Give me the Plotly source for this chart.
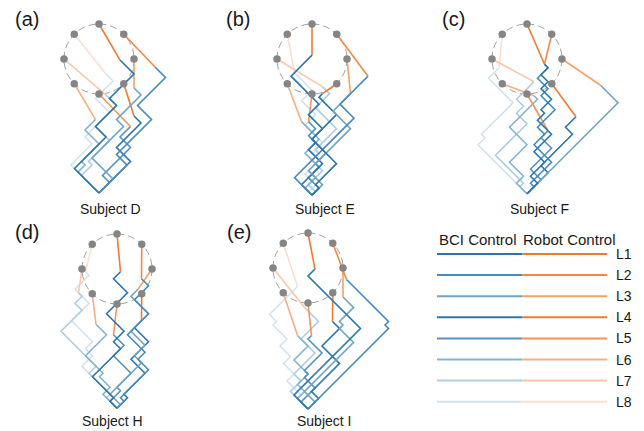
import math
import plotly.graph_objects as go

W, H = 644, 431
PX = 3.5      # screen pixels per data unit
R = 10.0      # radius of the target circle (data units)

subjects = ["Subject D", "Subject E", "Subject F", "Subject H", "Subject I"]
panel_tags = ["(a)", "(b)", "(c)", "(d)", "(e)"]
levels = ["L1", "L2", "L3", "L4", "L5", "L6", "L7", "L8"]
# target direction for each level, degrees (L1 at top, clockwise)
target_angles = [90, 45, 0, -45, -90, -135, 180, 135]

bci_colors = ["#2b76ae", "#468bbd", "#6fa4c9", "#2b76ae",
              "#5593c0", "#84b3d3", "#afcde2", "#d3e3ee"]
robot_colors = ["#f07a30", "#f38943", "#f6a169", "#f07a30",
                "#f59458", "#f8ae82", "#fac8a8", "#fce0cf"]

# vertical position of the common start point, per subject
start_y = [-38.3, -38.9, -38.5, -39.8, -40.3]

# BCI steps per level: +n = n units up-right, -n = n units up-left
bci_moves_D = [
    [-7, 9, -3, 6, -2, 7, -4],
    [8, -3, 10, -4, 8, -3],
    [4, -6, 9, -2, 7, -2],
    [9, -4, 7, -2],
    [3, -2, 8, -3, 3],
    [-6, 2, -1, 5, -4, 3],
    [-5, 3, -1, 6, -4, 6, -3],
    [-8, 6, -2, 7, -4, 5, -2],
]
bci_moves_E = [
    [2, -1, 6, -7, 3, -4, 3, -8, 6],
    [-5, 17, -4, 8],
    [3, -4, 12, -5, 5],
    [-3, 6, -4, 2, -1, 7, -5, 1],
    [2, -3, 3, -1, 3, -5, 2, -2],
    [-2, 3, -1, 2, -4, 4, -5],
    [1, -2, 4, -3, 2, -1, 6, -6, 4, -2],
    [-1, 2, -3, 4, -2, 3, -5, 3, -4, 3, -5],
]
bci_moves_F = [
    [3, -2, 4, -3, 5, -4, 2, -1, 3, -3, 2, -2, 2, -1],
    [2, -1, 6, -5, 3, -2, 5, -4, 2, -3, 3, -1],
    [26, -5],
    [6, -2, 9, -2, 3],
    [4, -3, 6, -3, 2],
    [-3, 2, -4, 5, -5, 8, -1],
    [-2, 1, -8, 9, -3, 2, -2, 5],
    [-14, 2, -1, 9, -7, 3],
]
bci_moves_H = [
    [-2, 1, -6, 8, -2, 3, -5, 6, -4, 2],
    [2, -1, 8, -3, 2, -5, 6, -4, 4, -2],
    [1, -3, 9, -2, 3, -4, 5, -5, 2],
    [3, -1, 6, -4, 5, -4, 2],
    [-2, 3, -1, 4, -5, 3, -3],
    [-4, 2, -3, 1, -5, 6, -3],
    [-3, 1, -6, 2, -10, 6, -2, 2, -1],
    [-2, 1, -9, 3, -2, 2, -6, 5, -4, 4, -1],
]
bci_moves_I = [
    [-4, 19, -15, 2],
    [23, -1, 1, -12],
    [2, -3, 14, -4, 1, -1, 4, -3],
    [3, -2, 8, -5, 5, -2],
    [-2, 4, -3, 1, -1, 5, -4, 1],
    [-3, 2, -2, 3, -4, 4, -3],
    [-5, 3, -2, 6, -4, 5, -4],
    [-3, 1, -4, 2, -3, 2, -3, 2, -4, 1, -2, 8],
]
bci_moves = [bci_moves_D, bci_moves_E, bci_moves_F, bci_moves_H, bci_moves_I]

# pixel position of each target-circle centre
centers = [(99, 59), (312, 59), (527, 59), (117, 269), (308, 268)]
label_pos = [(110, 209), (325, 209), (539, 209), (112, 421), (324, 421)]
tag_pos = [(13, 19), (224, 19), (440, 19), (13, 232), (225, 232)]

FONT = "Liberation Sans, Arial, sans-serif"
TXT = "#1a1a1a"


def trace_path(moves, y0):
    xs, ys = [0.0], [y0]
    for m in moves:
        xs.append(xs[-1] + m)
        ys.append(ys[-1] + abs(m))
    return xs, ys


fig = go.Figure()
shapes, annotations = [], []

for p, (cx, cy) in enumerate(centers):
    k = "" if p == 0 else str(p + 1)
    x0, x1 = max(0, cx - 95), min(W, cx + 95)
    y0, y1 = cy - 45, cy + 150
    fig.layout["xaxis" + k] = dict(
        domain=[x0 / W, x1 / W], range=[(x0 - cx) / PX, (x1 - cx) / PX],
        visible=False, fixedrange=True, anchor="y" + k)
    fig.layout["yaxis" + k] = dict(
        domain=[1 - y1 / H, 1 - y0 / H], range=[-(y1 - cy) / PX, (cy - y0) / PX],
        visible=False, fixedrange=True, anchor="x" + k)
    xr, yr = "x" + k, "y" + k

    shapes.append(dict(type="circle", xref=xr, yref=yr, x0=-R, x1=R, y0=-R, y1=R,
                       line=dict(color="#a0a0a0", width=1, dash="7px,4px"),
                       layer="below"))

    tx = [R * math.cos(math.radians(a)) for a in target_angles]
    ty = [R * math.sin(math.radians(a)) for a in target_angles]

    for lv in reversed(range(len(levels))):
        xs, ys = trace_path(bci_moves[p][lv], start_y[p])
        fig.add_trace(go.Scatter(x=xs, y=ys, mode="lines", xaxis=xr, yaxis=yr,
                                 line=dict(color=bci_colors[lv], width=1.6),
                                 showlegend=False, hoverinfo="skip"))
        fig.add_trace(go.Scatter(x=[xs[-1], tx[lv]], y=[ys[-1], ty[lv]], mode="lines",
                                 xaxis=xr, yaxis=yr,
                                 line=dict(color=robot_colors[lv], width=1.6),
                                 showlegend=False, hoverinfo="skip"))

    fig.add_trace(go.Scatter(x=tx, y=ty, mode="markers", xaxis=xr, yaxis=yr,
                             marker=dict(color="#858585", size=7.5),
                             showlegend=False, hoverinfo="skip"))

    lx, ly = label_pos[p]
    annotations.append(dict(text=subjects[p], x=lx / W, y=1 - ly / H, xref="paper",
                            yref="paper", showarrow=False, xanchor="center",
                            yanchor="middle", font=dict(family=FONT, size=14, color=TXT)))
    gx, gy = tag_pos[p]
    annotations.append(dict(text=panel_tags[p], x=gx / W, y=1 - gy / H, xref="paper",
                            yref="paper", showarrow=False, xanchor="left",
                            yanchor="middle", font=dict(family=FONT, size=20, color=TXT)))

# key: one row per level, BCI segment then robot segment
k = "6"
lx0, lx1, ly0, ly1 = 437, 644, 229, 415
unit_x, unit_y = 85.5, 21.1
fig.layout["xaxis" + k] = dict(domain=[lx0 / W, lx1 / W], range=[0, (lx1 - lx0) / unit_x],
                               visible=False, fixedrange=True, anchor="y" + k)
fig.layout["yaxis" + k] = dict(domain=[1 - ly1 / H, 1 - ly0 / H],
                               range=[1 + (ly1 - 254) / unit_y, 1 - (254 - ly0) / unit_y],
                               visible=False, fixedrange=True, anchor="x" + k)
for lv, name in enumerate(levels):
    row = lv + 1
    fig.add_trace(go.Scatter(x=[0, 1], y=[row, row], mode="lines", xaxis="x6", yaxis="y6",
                             line=dict(color=bci_colors[lv], width=2),
                             showlegend=False, hoverinfo="skip"))
    fig.add_trace(go.Scatter(x=[1, 1.99], y=[row, row], mode="lines", xaxis="x6", yaxis="y6",
                             line=dict(color=robot_colors[lv], width=2),
                             showlegend=False, hoverinfo="skip"))
    annotations.append(dict(text=name, x=2.07, y=row, xref="x6", yref="y6",
                            showarrow=False, xanchor="left", yanchor="middle",
                            font=dict(family=FONT, size=14, color=TXT)))
annotations.append(dict(text="BCI Control", x=0, y=0.3, xref="x6", yref="y6",
                        showarrow=False, xanchor="left", yanchor="middle",
                        font=dict(family=FONT, size=15, color=TXT)))
annotations.append(dict(text="Robot Control", x=0.98, y=0.3, xref="x6", yref="y6",
                        showarrow=False, xanchor="left", yanchor="middle",
                        font=dict(family=FONT, size=15, color=TXT)))

fig.update_layout(width=W, height=H, margin=dict(l=0, r=0, t=0, b=0),
                  paper_bgcolor="white", plot_bgcolor="rgba(0,0,0,0)",
                  shapes=shapes, annotations=annotations, showlegend=False)

fig.write_html("out.html", config={"displayModeBar": False})
